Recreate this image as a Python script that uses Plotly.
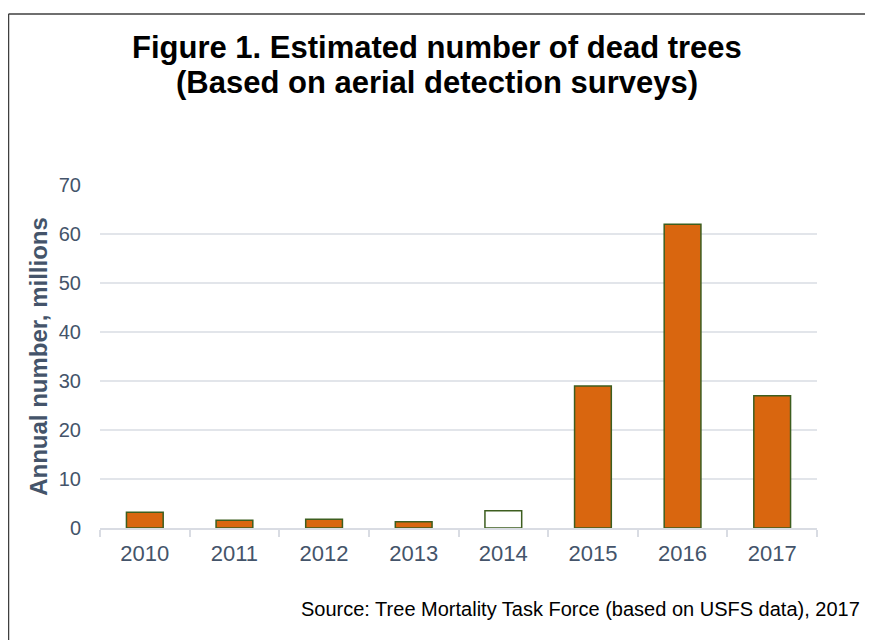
import plotly.graph_objects as go

years = ["2010", "2011", "2012", "2013", "2014", "2015", "2016", "2017"]
dead_trees_millions = [3.2, 1.6, 1.8, 1.3, 3.5, 29.0, 62.0, 27.0]
bar_fill = ["#D9660F", "#D9660F", "#D9660F", "#D9660F", "#FFFFFF", "#D9660F", "#D9660F", "#D9660F"]
y_ticks = [0, 10, 20, 30, 40, 50, 60, 70]

title_lines = ["<b>Figure 1. Estimated number of dead trees</b>",
               "<b>(Based on aerial detection surveys)</b>"]
y_title = "<b>Annual number, millions</b>"
source_text = "Source: Tree Mortality Task Force (based on USFS data), 2017"

# page body has an 8px margin, so the figure is slightly smaller than the window
OFF = 8
W, H = 865, 632
ML, MR, MT, MB = 92, 56, 177, 112

fig = go.Figure()
fig.add_trace(go.Bar(
    x=years, y=dead_trees_millions,
    marker=dict(color=bar_fill, line=dict(color="#3D5E1F", width=1.5)),
    width=0.41,
))

plot_w = W - ML - MR
plot_h = H - MT - MB

def px_x(p):
    return (p - OFF - ML) / plot_w

def px_y(p):
    return (H - MB - (p - OFF)) / plot_h

# outer frame (left and top edges)
fig.add_shape(type="line", xref="paper", yref="paper",
              x0=px_x(8.5), x1=px_x(8.5), y0=px_y(14), y1=px_y(700),
              line=dict(color="#3F3F3F", width=1.5))
fig.add_shape(type="line", xref="paper", yref="paper",
              x0=px_x(8.5), x1=px_x(900), y0=px_y(14), y1=px_y(14),
              line=dict(color="#3F3F3F", width=1.5))

# title (two lines, tighter spacing than a plotly title)
for line, ypix in zip(title_lines, [47, 83]):
    fig.add_annotation(text=line, xref="paper", yref="paper",
                       x=px_x(437), y=px_y(ypix), xanchor="center", yanchor="middle",
                       showarrow=False,
                       font=dict(family="Liberation Sans, Arial", size=31, color="#000000"))

fig.add_annotation(text=source_text, xref="paper", yref="paper",
                   x=px_x(862), y=px_y(609), xanchor="right", yanchor="middle",
                   showarrow=False, font=dict(family="Liberation Sans, Arial", size=20, color="#000000"))

fig.update_layout(
    width=W, height=H,
    margin=dict(l=ML, r=MR, t=MT, b=MB),
    paper_bgcolor="white", plot_bgcolor="white",
    showlegend=False,
    font=dict(family="Liberation Sans, Arial", color="#44546A"),
)
fig.update_xaxes(
    type="category", showgrid=False, showline=True, linecolor="#D9DCE3", linewidth=1.5,
    ticks="outside", tickson="boundaries", ticklen=7, tickcolor="#D9DCE3", tickwidth=1.5,
    ticklabelstandoff=5,
    tickfont=dict(size=22, color="#44546A"),
)
fig.update_yaxes(
    range=[0, 70], tickvals=y_ticks, showgrid=True, gridcolor="#E2E5EA", gridwidth=1.5,
    zeroline=False, showline=False, ticks="", ticklabelstandoff=18,
    tickfont=dict(size=20, color="#44546A"),
    title=dict(text=y_title, font=dict(size=24, color="#44546A"), standoff=4),
)

fig.write_html("out.html")
